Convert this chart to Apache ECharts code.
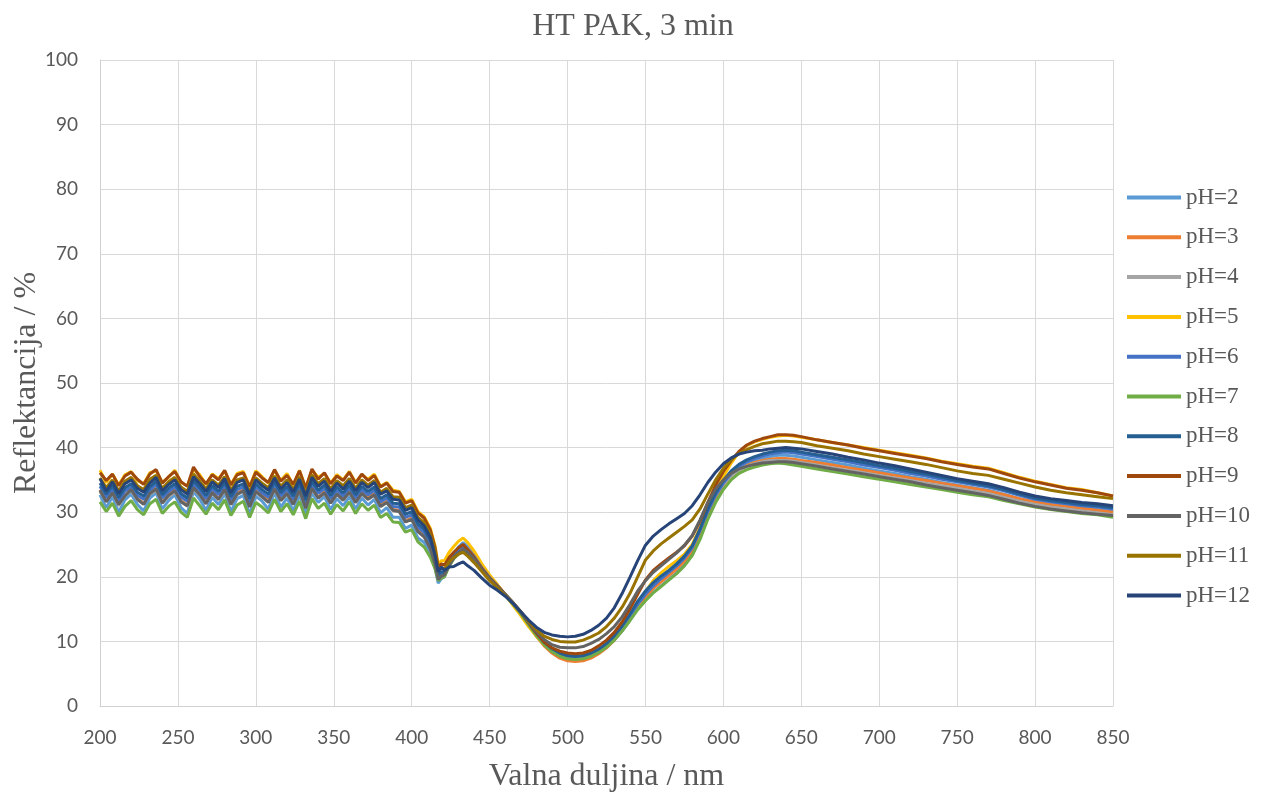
<!DOCTYPE html>
<html><head><meta charset="utf-8">
<script src="https://cdn.jsdelivr.net/npm/echarts@6/dist/echarts.min.js"></script>
<style>html,body{margin:0;padding:0;background:#fff}#c{width:1266px;height:796px}</style>
</head><body><div id="c"></div>
<script>
const wavelengths = [200,204,208,212,216,220,224,228,232,236,240,244,248,252,256,260,264,268,272,276,280,284,288,292,296,300,304,308,312,316,320,324,328,332,336,340,344,348,352,356,360,364,368,372,376,380,384,388,392,396,400,404,408,412,
415,417,419,421,424,427,430,433,436,
440,445,450,455,460,465,470,475,480,485,490,495,500,505,510,515,520,525,530,535,540,545,550,555,560,565,570,575,580,585,590,595,600,605,610,615,620,625,630,635,640,645,650,
660,670,680,690,700,710,720,730,740,750,760,770,780,790,800,810,820,830,840,850];

const seriesNames = ['pH=2','pH=3','pH=4','pH=5','pH=6','pH=7','pH=8','pH=9','pH=10','pH=11','pH=12'];
const seriesColors = ['#5B9BD5','#ED7D31','#A5A5A5','#FFC000','#4472C4','#70AD47','#255E91','#9E480E','#636363','#997300','#264478'];

const pH2 = [32.7,30.7,32.4,30.0,31.9,32.8,31.2,30.2,32.2,33.0,30.5,31.8,32.7,30.7,29.8,33.2,32.0,30.3,32.3,31.2,32.9,30.1,32.1,32.6,29.7,32.5,31.7,30.5,33.0,30.8,32.2,30.2,32.7,29.6,33.0,31.5,32.4,30.4,32.1,31.0,32.4,30.5,32.2,31.1,32.0,29.9,30.7,29.2,29.2,27.5,28.0,26.0,25.3,23.5,
21.4,19.0,19.7,20.0,22.0,23.5,24.6,25.3,24.7,
23.6,21.7,20.1,18.7,17.2,15.8,14.3,12.6,10.9,9.5,8.4,7.7,7.3,7.2,7.3,7.7,8.3,9.1,10.2,11.6,13.3,15.0,16.4,17.6,18.6,19.6,20.6,21.8,23.4,26.0,29.2,31.8,33.8,35.4,36.6,37.4,37.9,38.3,38.6,38.8,38.8,38.7,38.5,
38.1,37.7,37.3,36.8,36.4,36.0,35.5,35.1,34.6,34.2,33.8,33.4,32.8,32.1,31.6,31.2,30.9,30.6,30.4,30.1];

const pH3 = [33.5,31.7,33.2,31.3,32.6,33.6,32.1,31.4,33.0,33.7,31.5,32.7,33.5,31.9,31.0,34.0,32.8,31.6,33.2,32.1,33.6,31.3,33.0,33.4,31.1,33.3,32.5,31.8,33.8,31.9,33.1,31.5,33.5,30.9,33.8,32.3,33.2,31.6,32.9,32.0,33.2,31.7,33.0,32.2,32.9,31.1,31.7,30.4,30.3,28.7,29.1,27.2,26.4,24.6,
22.0,19.6,20.2,20.4,22.0,23.3,24.2,24.8,24.3,
23.3,21.5,20.0,18.7,17.3,15.9,14.4,12.6,10.8,9.3,8.2,7.4,7.0,6.9,7.0,7.4,8.1,9.0,10.2,11.7,13.5,15.4,16.9,18.2,19.2,20.2,21.2,22.4,24.0,26.6,29.7,32.2,34.0,35.5,36.5,37.2,37.7,38.0,38.2,38.3,38.3,38.2,38.0,
37.7,37.3,36.9,36.5,36.1,35.7,35.3,34.9,34.5,34.1,33.7,33.3,32.7,32.1,31.6,31.2,30.9,30.6,30.3,30.0];

const pH4 = [33.2,31.8,33.0,31.0,32.6,33.3,31.9,31.3,32.8,33.4,31.5,32.4,33.1,31.7,30.9,33.6,32.6,31.4,32.9,31.9,33.3,31.2,32.7,33.2,30.9,33.1,32.3,31.6,33.4,31.8,32.8,31.3,33.3,30.7,33.5,32.2,32.9,31.4,32.7,31.8,33.0,31.5,32.8,32.0,32.6,30.9,31.5,30.2,30.1,28.5,28.9,27.0,26.2,24.4,
21.8,19.5,20.0,20.2,21.7,22.9,23.8,24.4,23.9,
22.9,21.2,19.8,18.6,17.2,15.9,14.4,12.7,11.0,9.6,8.6,7.9,7.6,7.5,7.6,8.0,8.6,9.5,10.7,12.2,14.0,16.0,17.5,18.8,19.8,20.8,21.8,23.0,24.6,27.2,30.2,32.6,34.3,35.6,36.5,37.1,37.5,37.8,38.0,38.0,38.0,37.9,37.7,
37.3,36.9,36.5,36.1,35.7,35.3,34.9,34.5,34.1,33.7,33.3,32.9,32.3,31.7,31.2,30.8,30.5,30.2,29.9,29.6];

const pH5 = [36.5,34.6,35.9,34.2,35.8,36.3,34.9,34.4,36.1,36.4,34.6,35.4,36.5,34.6,34.1,36.6,35.8,34.3,35.9,35.2,36.4,34.3,36.0,36.3,34.0,36.4,35.5,34.5,36.5,34.9,36.0,34.2,36.5,33.8,36.5,35.4,36.0,34.5,35.8,35.0,36.3,34.6,35.8,35.1,35.9,34.0,34.6,33.4,33.2,31.6,32.0,30.1,29.3,27.5,
24.8,21.9,22.5,22.5,23.8,24.7,25.5,26.0,25.3,
24.0,22.0,20.3,18.8,17.2,15.6,14.0,12.3,10.8,9.5,8.6,8.0,7.7,7.5,7.5,7.8,8.4,9.3,10.4,11.8,13.4,15.4,17.7,19.4,20.6,21.6,22.5,23.5,25.0,27.6,30.7,33.4,35.5,37.6,39.3,40.3,40.9,41.3,41.6,41.8,41.9,41.8,41.6,
41.2,40.8,40.4,40.0,39.6,39.2,38.8,38.4,37.9,37.5,37.1,36.8,36.1,35.4,34.8,34.3,33.8,33.5,33.0,32.5];

const pH6 = [34.0,32.3,33.6,31.8,33.3,33.9,32.6,32.0,33.4,34.3,32.2,33.2,33.9,32.4,31.7,34.4,33.3,32.1,33.6,32.7,34.1,31.9,33.5,33.9,31.6,33.9,33.0,32.3,34.2,32.5,33.5,32.0,34.0,31.4,34.3,32.9,33.7,32.1,33.4,32.5,33.7,32.2,33.5,32.7,33.4,31.6,32.2,30.9,30.8,29.2,29.6,27.7,26.9,25.1,
22.4,19.8,20.3,20.4,22.2,23.4,24.3,24.8,24.2,
23.2,21.4,19.9,18.6,17.2,15.8,14.4,12.8,11.1,9.7,8.6,7.9,7.5,7.4,7.5,7.9,8.5,9.4,10.5,12.0,13.8,15.7,17.3,18.6,19.7,20.7,21.7,22.9,24.5,27.1,30.1,32.6,34.5,36.0,37.1,37.8,38.3,38.7,39.0,39.2,39.3,39.2,39.0,
38.6,38.2,37.8,37.3,36.9,36.5,36.0,35.6,35.1,34.7,34.3,33.9,33.3,32.6,32.0,31.6,31.3,31.0,30.8,30.5];

const pH7 = [31.6,30.1,31.4,29.4,30.9,31.8,30.4,29.6,31.3,32.0,29.8,30.9,31.6,30.0,29.2,32.2,31.0,29.7,31.4,30.4,31.9,29.5,31.1,31.7,29.2,31.5,30.8,29.9,32.0,30.1,31.3,29.6,31.7,29.0,32.1,30.6,31.4,29.7,31.2,30.2,31.6,29.8,31.3,30.3,31.1,29.2,29.8,28.5,28.4,26.9,27.3,25.4,24.6,23.0,
21.2,19.4,19.8,20.0,21.6,22.8,23.5,24.0,23.5,
22.6,21.0,19.7,18.5,17.1,15.8,14.3,12.6,10.9,9.5,8.4,7.7,7.3,7.2,7.3,7.7,8.3,9.1,10.2,11.6,13.2,14.9,16.3,17.5,18.5,19.5,20.5,21.7,23.3,25.8,28.9,31.5,33.5,35.0,36.0,36.6,37.0,37.3,37.5,37.6,37.5,37.3,37.1,
36.7,36.3,35.9,35.5,35.1,34.7,34.3,33.9,33.5,33.1,32.7,32.4,31.8,31.3,30.8,30.4,30.1,29.8,29.6,29.2];

const pH8 = [34.5,32.8,34.1,32.3,33.8,34.4,33.1,32.5,33.9,34.8,32.7,33.7,34.4,32.9,32.2,34.9,33.8,32.6,34.1,33.2,34.6,32.4,34.0,34.4,32.1,34.4,33.5,32.8,34.7,33.0,34.0,32.5,34.5,31.9,34.8,33.4,34.2,32.6,33.9,33.0,34.2,32.7,34.0,33.2,33.9,32.1,32.7,31.4,31.3,29.7,30.1,28.2,27.4,25.6,
23.0,20.3,20.8,20.6,22.0,23.0,23.7,24.1,23.5,
22.6,21.0,19.6,18.4,17.2,15.9,14.5,12.9,11.3,9.9,8.9,8.2,7.8,7.7,7.8,8.2,8.8,9.7,10.9,12.4,14.2,16.2,17.8,19.1,20.1,21.0,22.0,23.2,24.8,27.4,30.5,33.0,34.9,36.4,37.4,38.1,38.6,39.0,39.3,39.5,39.6,39.5,39.3,
38.9,38.5,38.1,37.7,37.2,36.8,36.3,35.9,35.4,34.9,34.5,34.1,33.5,32.8,32.2,31.8,31.5,31.2,31.0,30.7];

const pH9 = [36.1,34.9,35.9,34.1,35.6,36.2,35.1,34.3,35.9,36.6,34.5,35.5,36.3,34.7,34.0,37.0,35.5,34.4,35.8,35.0,36.5,34.2,35.8,36.1,33.9,36.2,35.3,34.6,36.6,34.8,35.7,34.3,36.4,33.7,36.7,35.1,36.1,34.4,35.6,34.9,36.2,34.5,35.9,34.9,35.7,33.9,34.5,33.2,33.1,31.4,31.8,29.9,29.1,27.2,
24.5,21.5,22.0,21.8,23.0,23.8,24.5,25.0,24.2,
23.0,21.3,19.8,18.6,17.3,16.0,14.6,12.9,11.3,9.9,9.0,8.5,8.2,8.1,8.2,8.6,9.3,10.2,11.4,13.0,15.0,17.3,19.5,21.0,22.0,22.9,23.8,24.8,26.3,28.6,31.5,34.2,36.3,38.0,39.4,40.4,41.0,41.4,41.7,42.0,42.0,41.9,41.7,
41.2,40.8,40.4,39.9,39.5,39.1,38.7,38.3,37.8,37.4,37.0,36.7,36.0,35.3,34.7,34.2,33.7,33.4,33.0,32.5];

const pH10 = [33.4,31.6,33.0,31.2,32.5,33.5,32.0,31.2,32.9,33.6,31.4,32.6,33.3,31.6,31.0,33.8,32.7,31.3,33.0,32.0,33.5,31.2,32.8,33.3,30.8,33.2,32.4,31.5,33.6,31.8,32.9,31.2,33.4,30.6,33.7,32.2,33.0,31.4,32.8,31.9,33.1,31.5,32.9,32.0,32.7,30.9,31.5,30.3,30.1,28.5,28.9,27.0,26.2,24.3,
21.9,19.6,20.1,20.3,21.8,22.9,23.7,24.3,23.8,
22.8,21.1,19.7,18.5,17.3,16.0,14.6,13.0,11.5,10.3,9.5,9.1,9.0,9.0,9.2,9.7,10.3,11.2,12.3,13.8,15.7,17.8,19.4,20.7,21.7,22.7,23.7,24.9,26.4,28.8,31.5,33.6,35.0,36.0,36.7,37.1,37.4,37.6,37.7,37.8,37.8,37.7,37.5,
37.1,36.7,36.3,35.9,35.5,35.1,34.7,34.2,33.8,33.4,33.0,32.6,32.0,31.4,30.9,30.5,30.2,29.9,29.7,29.5];

const pH11 = [35.3,33.8,35.0,33.3,34.8,35.4,34.1,33.5,35.1,35.7,33.7,34.7,35.4,33.9,33.2,35.9,34.8,33.6,35.0,34.2,35.5,33.4,35.0,35.3,33.1,35.3,34.5,33.8,35.6,34.0,35.0,33.5,35.5,32.9,35.8,34.4,35.2,33.6,34.9,34.1,35.2,33.7,35.0,34.2,34.9,33.1,33.7,32.4,32.3,30.7,31.1,29.2,28.4,26.6,
24.0,21.0,21.4,21.2,22.3,23.0,23.5,23.8,23.2,
22.2,20.8,19.4,18.3,17.1,15.9,14.6,13.1,11.8,10.8,10.3,10.0,9.9,9.9,10.2,10.7,11.3,12.3,13.6,15.3,17.4,20.0,22.6,24.0,25.1,26.0,26.9,27.8,28.8,30.5,32.8,35.0,36.8,38.1,39.1,39.7,40.2,40.6,40.8,41.0,41.0,40.9,40.8,
40.3,39.9,39.5,39.0,38.6,38.2,37.8,37.4,36.9,36.4,36.0,35.7,35.1,34.5,33.9,33.4,33.0,32.7,32.4,32.1];

const pH12 = [35.2,33.3,34.7,32.9,34.4,35.0,33.7,33.1,34.5,35.4,33.3,34.3,35.0,33.5,32.8,35.5,34.4,33.2,34.7,33.8,35.2,33.0,34.6,35.0,32.7,35.0,34.1,33.4,35.3,33.6,34.6,33.1,35.1,32.5,35.4,34.0,34.8,33.2,34.5,33.6,34.8,33.3,34.6,33.8,34.6,32.8,33.3,32.0,31.9,30.3,30.7,28.8,27.9,26.1,
23.3,20.8,21.5,21.0,21.5,21.6,22.0,22.3,21.7,
21.0,19.8,18.7,17.9,17.0,15.9,14.6,13.3,12.2,11.4,11.0,10.8,10.7,10.8,11.1,11.7,12.5,13.6,15.2,17.4,19.9,22.5,24.9,26.3,27.3,28.2,29.0,29.8,31.0,32.7,34.6,36.2,37.5,38.4,39.0,39.3,39.5,39.6,39.8,39.9,40.0,39.9,39.8,
39.4,39.0,38.5,38.1,37.6,37.2,36.7,36.2,35.7,35.2,34.8,34.4,33.8,33.1,32.5,32.1,31.8,31.5,31.3,31.0];

const allValues = [pH2,pH3,pH4,pH5,pH6,pH7,pH8,pH9,pH10,pH11,pH12];

const chart = echarts.init(document.getElementById('c'), null, {renderer:'canvas'});
const labelColor = '#595959';
const serif = '"Liberation Serif","Times New Roman",serif';
const sans = 'Lato,"Liberation Sans",sans-serif';

chart.setOption({
  animation: false,
  backgroundColor: '#fff',
  title: {
    text: 'HT PAK, 3 min', left: 'center', top: 6,
    textStyle: {fontFamily: serif, fontSize: 32, fontWeight: 'normal', color: labelColor}
  },
  legend: {
    orient: 'vertical', left: 1122, top: 181,
    itemWidth: 54, itemHeight: 4, itemGap: 16.8,
    icon: 'rect',
    textStyle: {fontFamily: serif, fontSize: 23, color: labelColor, lineHeight: 23},
    data: seriesNames
  },
  grid: {left: 100, right: 153, top: 60, bottom: 90, containLabel: false, outerBoundsMode: 'none'},
  xAxis: {
    type: 'value', min: 200, max: 850, interval: 50,
    name: 'Valna duljina / nm', nameLocation: 'middle', nameGap: 55, nameMoveOverlap: false,
    nameTextStyle: {fontFamily: serif, fontSize: 32, color: labelColor},
    axisLine: {show: true, lineStyle: {color: '#d0d0d0', width: 1}},
    axisTick: {show: false},
    axisLabel: {fontFamily: sans, fontSize: 19, color: labelColor, margin: 22},
    splitLine: {show: true, lineStyle: {color: '#d9d9d9', width: 1}}
  },
  yAxis: {
    type: 'value', min: 0, max: 100, interval: 10,
    name: 'Reflektancija / %', nameLocation: 'middle', nameGap: 57, nameMoveOverlap: false,
    nameTextStyle: {fontFamily: serif, fontSize: 32, color: labelColor},
    axisLine: {show: true, lineStyle: {color: '#d0d0d0', width: 1}},
    axisTick: {show: false},
    axisLabel: {fontFamily: sans, fontSize: 19, color: labelColor, margin: 22},
    splitLine: {show: true, lineStyle: {color: '#d9d9d9', width: 1}}
  },
  series: seriesNames.map((n, i) => ({
    name: n, type: 'line', showSymbol: false, symbol: 'none',
    lineStyle: {width: 3, color: seriesColors[i]},
    itemStyle: {color: seriesColors[i]},
    data: wavelengths.map((w, j) => [w, allValues[i][j]])
  }))
});
</script>
</body></html>
